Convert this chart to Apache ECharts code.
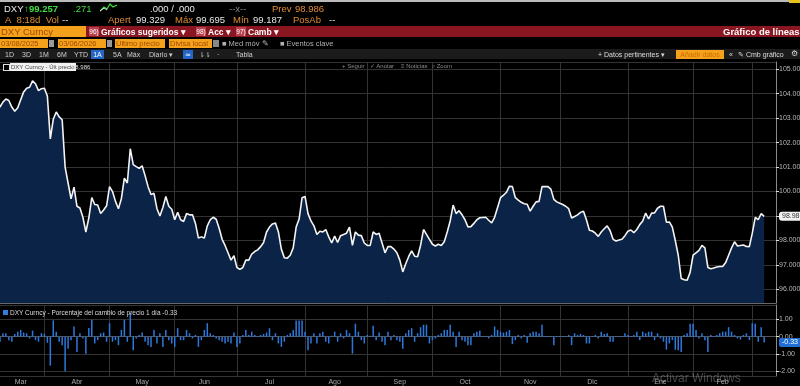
<!DOCTYPE html>
<html><head><meta charset="utf-8">
<script src="https://cdn.jsdelivr.net/npm/echarts@6/dist/echarts.min.js"></script>
<style>
body{margin:0;background:#000;width:800px;height:386px;overflow:hidden;position:relative;font-family:"Liberation Sans",Arial,sans-serif;}
#chart{position:absolute;left:0;top:0;width:800px;height:386px;}
.t{position:absolute;white-space:nowrap;line-height:1;z-index:5;}
.r1{top:4px;font-size:9.5px;}
.r2{top:14.5px;font-size:9.5px;}
.o{color:#e08c34;}
.w{color:#e6e6e6;}
.g{color:#3fdc3f;}
.box{position:absolute;z-index:5;white-space:nowrap;line-height:1;overflow:hidden;}
.ob{background:#f4a21c;color:#a04a00;font-size:7.5px;height:9px;line-height:9px;top:39px;padding-left:1px;}
.rb{background:#b8414f;color:#fff;font-size:6.5px;height:9px;line-height:9px;top:27px;width:10px;text-align:center;}
.hd{position:absolute;white-space:nowrap;z-index:5;top:27.5px;font-size:8.5px;color:#fff;font-weight:bold;line-height:1;}
.r5{position:absolute;white-space:nowrap;z-index:5;top:50.5px;font-size:7px;color:#cfcfcf;line-height:1;}
</style></head><body>
<div id="chart"></div>

<div class="box" style="left:0;top:0;width:800px;height:1.5px;background:#bbb;"></div>
<div class="box" style="left:789px;top:0;width:11px;height:3px;background:#e8c21a;"></div>

<div class="t r1 w" style="left:4px;">DXY</div>
<div class="t r1 g" style="left:24px;">↑</div>
<div class="t r1 g" style="left:29px;font-weight:bold;">99.257</div>
<div class="t r1 g" style="left:73px;">.271</div>
<svg class="box" style="left:100px;top:3px;" width="18" height="9"><polyline points="0,8 4,4 7,6 10,1 13,4 17,2" fill="none" stroke="#3fdc3f" stroke-width="1.2"/><polyline points="0,8 4,5 7,7" fill="none" stroke="#ddd" stroke-width="1"/></svg>
<div class="t r1 w" style="left:150px;">.000 / .000</div>
<div class="t r1" style="left:229px;color:#888;">--x--</div>
<div class="t r1 o" style="left:272px;">Prev</div>
<div class="t r1 o" style="left:295px;">98.986</div>

<div class="t r2 o" style="left:5px;">A&nbsp; 8:18d&nbsp; Vol</div>
<div class="t r2 w" style="left:62px;">--</div>
<div class="t r2 o" style="left:108px;">Apert</div>
<div class="t r2 w" style="left:136px;">99.329</div>
<div class="t r2 o" style="left:175px;">Máx</div>
<div class="t r2 w" style="left:196px;">99.695</div>
<div class="t r2 o" style="left:233px;">Mín</div>
<div class="t r2 w" style="left:253px;">99.187</div>
<div class="t r2 o" style="left:293px;">PosAb</div>
<div class="t r2 w" style="left:329px;">--</div>

<div class="box" style="left:0;top:26px;width:800px;height:11px;background:#8a1622;"></div>
<div class="box" style="left:0;top:26px;width:85px;height:11px;background:#f4a21c;color:#a04a00;font-size:9.5px;line-height:11px;padding-left:1px;">DXY Curncy</div>
<div class="box rb" style="left:89px;">96)</div>
<div class="hd" style="left:101px;">Gráficos sugeridos ▾</div>
<div class="box rb" style="left:196px;">98)</div>
<div class="hd" style="left:208px;">Acc ▾</div>
<div class="box rb" style="left:236px;">97)</div>
<div class="hd" style="left:248px;">Camb ▾</div>
<div class="hd" style="left:723px;font-size:9.5px;top:27px;">Gráfico de líneas</div>

<div class="box ob" style="left:0;width:47px;">03/08/2025</div>
<div class="box" style="left:49px;top:40px;width:5px;height:7px;background:#999;"></div>
<div class="box ob" style="left:58px;width:47px;">03/06/2026</div>
<div class="box" style="left:107px;top:40px;width:5px;height:7px;background:#999;"></div>
<div class="box ob" style="left:115px;width:49px;">Último precio</div>
<div class="box ob" style="left:169px;width:42px;">Divisa local</div>
<div class="box" style="left:213px;top:40px;width:6px;height:7px;background:#888;"></div>
<div class="t" style="left:222px;top:40px;font-size:7.5px;color:#b0b0b0;">■ Med móv ✎</div>
<div class="t" style="left:280px;top:40px;font-size:7.5px;color:#b0b0b0;">■ Eventos clave</div>

<div class="box" style="left:0;top:49px;width:800px;height:10px;background:#1b1b1b;"></div>
<div class="r5" style="left:5px;">1D</div>
<div class="r5" style="left:22px;">3D</div>
<div class="r5" style="left:39px;">1M</div>
<div class="r5" style="left:57px;">6M</div>
<div class="r5" style="left:74px;">YTD</div>
<div class="box" style="left:91px;top:49.5px;width:13px;height:9px;background:#2466c8;color:#fff;font-size:7px;text-align:center;line-height:9px;">1A</div>
<div class="r5" style="left:113px;">5A</div>
<div class="r5" style="left:127px;">Máx</div>
<div class="r5" style="left:149px;">Diario ▾</div>
<div class="box" style="left:183px;top:49.5px;width:10px;height:9px;background:#2466c8;color:#fff;font-size:7px;text-align:center;line-height:9px;">≃</div>
<div class="r5" style="left:199px;">⇂⇂</div>
<div class="r5" style="left:217px;">·</div>
<div class="r5" style="left:236px;">Tabla</div>
<div class="r5" style="left:598px;color:#dcdcdc;">+ Datos pertinentes ▾</div>
<div class="box" style="left:676px;top:49.5px;width:48px;height:9px;background:#f4a21c;color:#c86a00;font-size:7px;text-align:center;line-height:9px;">Añadir datos</div>
<div class="r5" style="left:729px;color:#dcdcdc;">«</div>
<div class="r5" style="left:738px;color:#dcdcdc;">✎ Cmb gráfico</div>
<div class="r5" style="left:791px;color:#dcdcdc;font-size:8px;top:50px;">⚙</div>

<div class="box" style="left:3px;top:64px;width:5px;height:5px;border:1px solid #ddd;background:#000;"></div>
<div class="box" style="left:10px;top:63px;height:8px;background:#f2f2f2;color:#444;font-size:6px;line-height:8px;padding:0 1px;">DXY Curncy - Últ precio</div>
<div class="t" style="left:72px;top:64px;font-size:6px;color:#ddd;">98.986</div>
<div class="t" style="left:342px;top:63px;font-size:6px;color:#8a8a8a;">+ Seguir</div>
<div class="t" style="left:370px;top:63px;font-size:6px;color:#8a8a8a;">✓ Anotar</div>
<div class="t" style="left:401px;top:63px;font-size:6px;color:#8a8a8a;">≡ Noticias</div>
<div class="t" style="left:432px;top:63px;font-size:6px;color:#8a8a8a;">⌕ Zoom</div>

<div class="box" style="left:3px;top:310px;width:5px;height:5px;background:#2f7de0;"></div>
<div class="t" style="left:10px;top:310px;font-size:6.5px;color:#dcdcdc;">DXY Curncy - Porcentaje del cambio de precio 1 día -0.33</div>

<div class="t" style="left:652px;top:372px;font-size:12px;color:rgba(200,200,200,0.35);">Activar Windows</div>

<script>
// ---- data ----
const startDate = '2025-03-10';
const padDays = 4;
const monthNames = ['Ene','Feb','Mar','Abr','May','Jun','Jul','Ago','Sep','Oct','Nov','Dic'];
const priceValues = [
103.87,103.45,103.65,103.78,103.72,103.45,103.28,103.42,103.75,104.07,
104.22,104.26,104.52,104.4,104.12,104.2,104.22,103.9,102.15,102.95,
103.25,103.05,102.93,101.0,100.35,99.7,100.18,99.4,99.33,98.95,
98.35,98.92,99.75,99.47,99.45,99.1,99.25,99.42,100.2,100.0,
99.6,99.3,99.72,100.55,100.35,101.75,101.1,101.02,100.95,101.05,
100.65,100.2,99.88,99.93,99.3,99.0,99.35,99.8,99.4,99.28,
98.85,99.15,98.85,98.78,99.1,99.05,99.05,98.7,98.1,98.15,
98.1,98.6,98.85,98.95,98.87,98.5,98.05,97.8,97.5,97.2,
97.38,96.9,96.82,96.9,97.2,97.2,97.45,97.55,97.62,97.75,
97.92,98.35,98.55,98.68,98.72,98.35,97.65,97.3,97.28,97.4,
97.7,98.55,98.88,99.75,99.8,99.1,98.8,98.6,98.25,98.38,
98.35,98.45,98.15,97.9,98.18,97.92,98.2,98.25,98.3,98.55,
97.8,98.35,98.22,98.2,97.9,97.8,97.8,98.35,98.25,98.3,
97.9,97.5,97.75,97.75,97.65,97.5,97.2,96.72,97.05,97.35,
97.58,97.36,97.34,97.8,98.45,98.25,98.05,97.85,97.78,97.85,
97.8,97.95,98.35,98.8,99.45,99.1,99.22,99.05,98.85,98.56,
98.57,98.7,98.85,98.93,98.94,98.95,98.83,98.72,98.95,99.35,
99.75,99.85,99.97,100.22,100.2,99.75,99.65,99.56,99.5,99.48,
99.2,99.4,99.58,99.6,100.2,100.2,100.2,100.1,99.68,99.58,
99.52,99.47,99.4,99.3,98.92,98.98,99.05,99.15,99.2,98.85,
98.42,98.39,98.3,98.17,98.35,98.48,98.6,98.4,98.05,97.98,
98.02,98.05,98.2,98.38,98.43,98.32,98.45,98.65,98.8,99.12,
98.88,99.12,99.13,99.32,99.4,99.4,98.75,98.76,98.55,98.0,
97.4,96.45,96.4,96.38,96.7,97.4,97.5,97.6,97.8,97.7,
96.9,96.85,96.88,96.92,96.94,96.94,97.1,97.4,97.7,97.95,
97.78,97.8,97.82,97.76,97.75,98.3,98.95,98.85,99.1,98.986];
const changeValues = [
-0.39,-0.3,0.2,0.2,-0.2,-0.29,0.15,0.29,0.39,0.24,
0.2,-0.1,0.35,-0.2,-0.29,0.2,0.16,-0.35,-1.67,0.94,
0.29,-0.29,-0.5,-2.0,-0.69,-0.2,0.59,-0.88,0.2,-0.1,
-0.98,0.5,0.98,-0.39,-0.2,0.2,0.24,-0.29,0.78,-0.29,
-0.2,-0.49,0.39,0.98,-0.29,1.37,-0.78,-0.1,0.1,0.24,
-0.29,-0.49,-0.59,0.39,-0.39,0.2,-0.59,0.39,-0.2,-0.39,
-0.59,0.49,-0.2,-0.2,0.39,0.2,-0.1,0.1,-0.59,-0.2,
0.39,0.78,0.2,0.1,-0.1,-0.2,-0.29,-0.39,-0.29,-0.39,
0.24,-0.59,-0.39,0.1,0.39,0.1,0.29,0.1,0.04,0.1,
0.16,0.24,0.49,-0.2,0.2,-0.39,-0.59,-0.29,0.1,0.2,
0.39,0.94,0.94,0.94,0.29,-0.78,-0.39,0.2,-0.39,0.2,
0.29,-0.29,-0.39,0.05,0.29,-0.29,0.2,-0.1,0.39,0.2,
-0.98,0.75,0.29,-0.2,-0.39,0.1,0.05,0.63,-0.2,0.24,
-0.29,-0.49,0.29,-0.2,0.1,-0.2,-0.29,-0.69,0.2,0.39,
0.49,-0.29,0.2,0.55,0.69,0.69,-0.39,-0.2,-0.1,0.1,
0.2,0.39,0.39,0.69,0.29,-0.59,0.29,-0.2,-0.29,-0.49,
-0.49,0.2,0.29,0.35,0.04,0.04,-0.1,0.1,0.59,0.39,
0.29,0.24,0.29,0.39,-0.43,-0.2,0.1,-0.1,0.1,-0.35,
0.2,0.29,0.29,0.2,0.69,0.04,0.04,0.04,-0.49,0.04,
0.04,0.04,0.04,0.1,-0.49,0.2,0.1,0.16,0.1,-0.39,
-0.39,0.04,0.1,-0.1,0.29,0.16,0.2,-0.29,-0.29,0.04,
0.04,0.04,0.2,0.1,0.04,0.1,0.29,-0.2,0.29,0.2,
0.29,0.29,-0.2,0.2,-0.1,-0.29,-0.75,-0.39,-0.2,-0.75,
-0.78,-0.88,0.1,0.2,0.75,0.75,0.39,-0.1,0.2,-0.2,
-0.88,0.1,0.04,0.1,0.2,0.29,0.29,0.55,0.29,0.1,
-0.1,-0.16,0.1,0.2,-0.2,0.78,0.75,-0.29,0.55,-0.33];
const lastPrice = 98.986;
const lastChange = -0.33;

// ---- categories: trading days (weekdays) ----
const dates = [];
(function(){
  const d = new Date(startDate + 'T00:00:00Z');
  while (dates.length < priceValues.length + padDays) {
    const wd = d.getUTCDay();
    if (wd !== 0 && wd !== 6) dates.push(d.toISOString().slice(0,10));
    d.setUTCDate(d.getUTCDate() + 1);
  }
})();
const monthStarts = new Set();
const labelIdx = new Map();
(function(){
  let s = 0;
  for (let i = 1; i <= dates.length; i++) {
    if (i === dates.length || dates[i].slice(0,7) !== dates[i-1].slice(0,7)) {
      if (i < dates.length) {
        monthStarts.add(i);
        const m = parseInt(dates[s].slice(5,7),10) - 1;
        labelIdx.set(Math.round((s + i - 1)/2), monthNames[m]);
      }
      s = i;
    }
  }
})();

const gridCol = '#333';
const chart = echarts.init(document.getElementById('chart'), null, {renderer:'canvas'});
chart.setOption({
  backgroundColor:'#000',
  animation:false,
  grid:[
    {left:-3, right:24, top:62, height:241, outerBoundsMode:'none', containLabel:false},
    {left:-3, right:24, top:305, height:71, outerBoundsMode:'none', containLabel:false}
  ],
  xAxis:[
    {gridIndex:0, type:'category', data:dates, boundaryGap:false,
     axisLabel:{show:false}, axisTick:{show:false},
     axisLine:{lineStyle:{color:'#666'}},
     splitLine:{show:true, interval:(i)=>monthStarts.has(i), lineStyle:{color:gridCol}}},
    {gridIndex:1, type:'category', data:dates, boundaryGap:false,
     axisTick:{show:false},
     axisLine:{lineStyle:{color:'#555'}},
     axisLabel:{interval:(i)=>labelIdx.has(i), formatter:(v,i)=>labelIdx.get(i)||'', color:'#a8a8a8', fontSize:7, margin:3, fontFamily:'Liberation Sans'},
     splitLine:{show:true, interval:(i)=>monthStarts.has(i), lineStyle:{color:gridCol}}}
  ],
  yAxis:[
    {gridIndex:0, type:'value', position:'right', min:95.45, max:105.29, splitNumber:10,
     axisLine:{show:true, lineStyle:{color:'#8a8a8a'}},
     axisTick:{show:true, length:3, lineStyle:{color:'#ddd'}},
     axisLabel:{formatter:(v)=>v.toFixed(3), color:'#b8b8b8', fontSize:7, margin:3, showMinLabel:false, showMaxLabel:false, fontFamily:'Liberation Sans'},
     splitLine:{lineStyle:{color:gridCol}}},
    {gridIndex:1, type:'value', position:'right', min:-2.27, max:1.83, splitNumber:4,
     axisLine:{show:true, lineStyle:{color:'#8a8a8a'}},
     axisTick:{show:true, length:3, lineStyle:{color:'#ddd'}},
     axisLabel:{formatter:(v)=>v.toFixed(2), color:'#b8b8b8', fontSize:7, margin:3, showMinLabel:false, showMaxLabel:false, fontFamily:'Liberation Sans'},
     splitLine:{lineStyle:{color:gridCol}}}
  ],
  series:[
    {type:'line', xAxisIndex:0, yAxisIndex:0, data:priceValues, showSymbol:false,
     lineStyle:{color:'#f4f4f4', width:1.6},
     areaStyle:{color:'#0b2346', opacity:1, origin:'start'},
     markLine:{silent:true, symbol:['none','none'], lineStyle:{width:0, color:'rgba(0,0,0,0)', type:'solid'},
       data:[{yAxis:lastPrice}],
       label:{show:true, position:'end', distance:3, formatter:()=>lastPrice.toFixed(3), backgroundColor:'#f2f2f2', color:'#333', fontSize:7, padding:[1,3], borderRadius:3}}},
    {type:'bar', xAxisIndex:1, yAxisIndex:1, data:changeValues, barWidth:1.5,
     itemStyle:{color:'#2c79de'},
     markLine:{silent:true, symbol:['none','none'], lineStyle:{width:0, color:'rgba(0,0,0,0)', type:'solid'},
       data:[{yAxis:lastChange}],
       label:{show:true, position:'end', distance:3, formatter:()=>lastChange.toFixed(2), backgroundColor:'#1f6fd6', color:'#fff', fontSize:7, padding:[1,3], borderRadius:2}}}
  ]
});
</script>
</body></html>
